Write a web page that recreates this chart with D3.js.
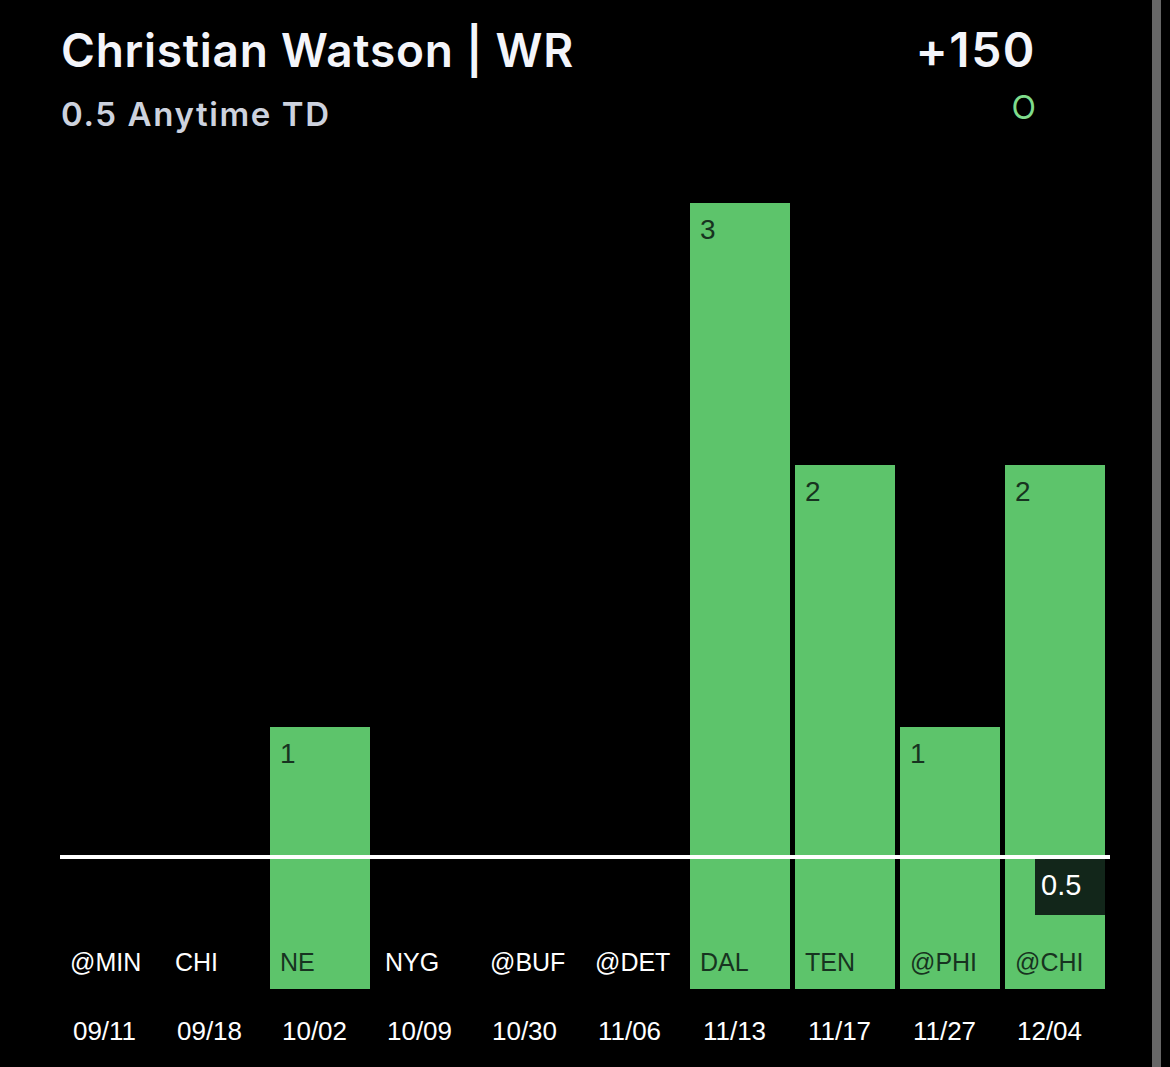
<!DOCTYPE html>
<html>
<head>
  <meta charset="utf-8" />
  <script src="https://d3js.org/d3.v7.min.js"></script>
  <style>
    html, body { margin: 0; padding: 0; background-color: #000; overflow: hidden; }
    svg { display: block; }
    .title { font-family: Inter, sans-serif; font-weight: 600; }
    .tick-label { font-family: "Liberation Sans", Arial, sans-serif; font-size: 25px; }
  </style>
</head>
<body>
  <svg id="chart" width="1170" height="1067"></svg>
  <script>
    const dates = ["09/11", "09/18", "10/02", "10/09", "10/30", "11/06", "11/13", "11/17", "11/27", "12/04"];
    const opponents = ["@MIN", "CHI", "NE", "NYG", "@BUF", "@DET", "DAL", "TEN", "@PHI", "@CHI"];
    const touchdowns = [0, 0, 1, 0, 0, 0, 3, 2, 1, 2];
    const propLine = 0.5;

    const green = "#5dc46b";
    const svg = d3.select("#chart");

    const x = d3.scaleBand().domain(dates).range([60, 1105]).paddingInner(5 / 105).paddingOuter(0).align(0);
    const y = d3.scaleLinear().domain([0, 3]).range([989, 203]);

    // grey strip down the right edge of the screenshot
    svg.append("rect").attr("x", 1152).attr("y", 0).attr("width", 9).attr("height", 1067).attr("fill", "#666");

    // header
    svg.append("text").attr("class", "title").attr("x", 61).attr("y", 67)
      .attr("font-size", 46).attr("letter-spacing", 0.75).attr("fill", "#f4f5fa").text("Christian Watson | WR");
    svg.append("text").attr("class", "title").attr("x", 61).attr("y", 126)
      .attr("font-size", 33).attr("font-weight", 500).attr("letter-spacing", 1.6).attr("fill", "#cdd2de").text("0.5 Anytime TD");
    svg.append("text").attr("class", "title").attr("x", 1036).attr("y", 67)
      .attr("font-size", 48).attr("letter-spacing", 1.5).attr("text-anchor", "end").attr("fill", "#f4f5fa").text("+150");
    svg.append("text").attr("class", "title").attr("x", 1036).attr("y", 119)
      .attr("font-size", 32).attr("text-anchor", "end").style("font-weight", 400).attr("fill", "#7fdc8c").text("O");

    // bars
    svg.append("g").selectAll("rect")
      .data(dates)
      .enter()
      .append("rect")
      .attr("x", d => x(d))
      .attr("y", (d, i) => y(touchdowns[i]))
      .attr("width", x.bandwidth())
      .attr("height", (d, i) => y(0) - y(touchdowns[i]))
      .attr("fill", green);

    // value labels, only for games with a score
    svg.append("g").selectAll("text")
      .data(dates.filter((d, i) => touchdowns[i] > 0))
      .enter()
      .append("text")
      .attr("class", "tick-label")
      .attr("x", d => x(d) + 10)
      .attr("y", d => y(touchdowns[dates.indexOf(d)]) + 36)
      .attr("fill", "#173320")
      .style("font-size", "28px")
      .text(d => touchdowns[dates.indexOf(d)]);

    // opponent labels
    svg.append("g").selectAll("text")
      .data(dates)
      .enter()
      .append("text")
      .attr("class", "tick-label")
      .attr("x", d => x(d) + 10)
      .attr("y", 971)
      .attr("fill", (d, i) => touchdowns[i] > 0 ? "#173320" : "#fff")
      .text((d, i) => opponents[i]);

    // date axis
    const axis = svg.append("g").attr("transform", "translate(0,1040)")
      .call(d3.axisBottom(x).tickSize(0).tickPadding(0));
    axis.select(".domain").remove();
    axis.selectAll("text")
      .attr("class", "tick-label")
      .attr("y", 0)
      .attr("dy", 0)
      .attr("dx", -5.5)
      .attr("fill", "#fff")
      .style("font-size", "26px")
      .style("font-family", '"Liberation Sans", Arial, sans-serif');

    // prop line and its tag
    svg.append("line")
      .attr("x1", 60).attr("x2", 1110)
      .attr("y1", y(propLine) - 1).attr("y2", y(propLine) - 1)
      .attr("stroke", "#fff").attr("stroke-width", 4);

    const last = x(dates[dates.length - 1]) + x.bandwidth();
    svg.append("rect")
      .attr("x", last - 70).attr("y", y(propLine) + 1)
      .attr("width", 70).attr("height", 56)
      .attr("fill", "#12261a");
    svg.append("text")
      .attr("class", "tick-label")
      .attr("x", last - 64).attr("y", y(propLine) + 37)
      .attr("fill", "#fff")
      .style("font-size", "29px")
      .text(propLine);
  </script>
</body>
</html>
